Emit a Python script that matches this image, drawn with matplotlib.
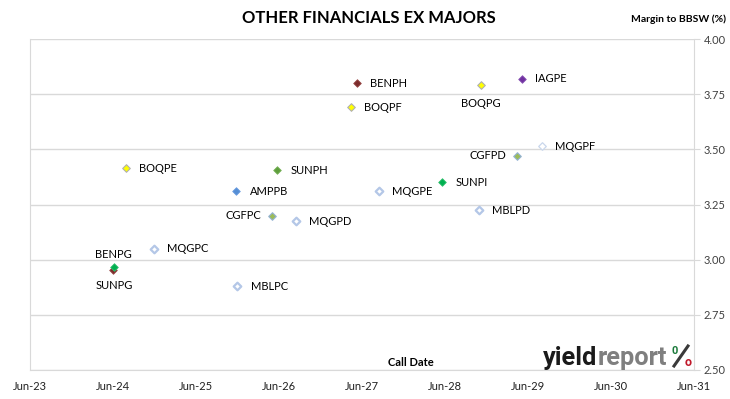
import pandas as pd
import matplotlib
matplotlib.use("Agg")
import matplotlib.pyplot as plt
import matplotlib.dates as mdates
from matplotlib.lines import Line2D

# securities, call dates and margins
codes = ["BENPH", "BOQPF", "IAGPE", "BOQPG", "MQGPF", "CGFPD", "SUNPI", "MQGPE",
         "BOQPE", "SUNPH", "AMPPB", "CGFPC", "MQGPD", "MQGPC", "BENPG", "SUNPG",
         "MBLPC", "MBLPD"]
call_dates = ["2027-06-08", "2027-05-13", "2029-06-04", "2028-12-05", "2029-08-30",
              "2029-05-12", "2028-06-17", "2027-09-12", "2024-08-25", "2026-06-21",
              "2025-12-24", "2026-05-30", "2026-09-13", "2024-12-27", "2024-06-30",
              "2024-07-03", "2025-12-29", "2028-11-27"]
margins = [3.80, 3.69, 3.82, 3.79, 3.515, 3.47, 3.35, 3.31,
           3.415, 3.405, 3.31, 3.20, 3.175, 3.05, 2.955, 2.965,
           2.88, 3.225]

y_ticks = [2.50, 2.75, 3.00, 3.25, 3.50, 3.75, 4.00]
x_tick_years = list(range(2023, 2032))

# marker look per issuer (face, edge, edge width)
styles = {
    "BEN": ("#7b2b2b", "#9a4a48", 0.6),
    "BOQ": ("#ffff00", "#b0b0b0", 0.8),
    "IAG": ("#7030a0", "#8a55b5", 0.6),
    "MQG": ("white", "#b4c7e7", 1.6),
    "MBL": ("white", "#b4c7e7", 1.6),
    "CGF": ("#9bbb59", "#95b3d7", 0.8),
    "SUN": ("#00b050", "#33c070", 0.6),
    "AMP": ("#558ed5", "#6c9de0", 0.6),
}
special = {"SUNPH": ("#5e9e3c", "#7ab35a", 0.6),
           "MQGPF": ("white", "#c9d7ec", 0.9)}

label_side = {"BOQPG": "below", "CGFPD": "left", "CGFPC": "left",
              "BENPG": "above", "SUNPG": "below"}

df = pd.DataFrame({"code": codes, "date": pd.to_datetime(call_dates), "margin": margins})

fig = plt.figure(figsize=(7.30, 3.99), dpi=100)
ax = fig.add_axes([30 / 730, 29 / 399, 664 / 730, 331 / 399])

for _, row in df.iterrows():
    face, edge, lw = special.get(row.code, styles[row.code[:3]])
    ax.scatter(row.date, row.margin, marker="D", s=15, facecolor=face,
               edgecolor=edge, linewidth=lw, zorder=3)
    side = label_side.get(row.code, "right")
    off = {"right": (9.5, 0), "left": (-8, 0), "above": (0, 11), "below": (0, -13)}[side]
    ha = {"right": "left", "left": "right", "above": "center", "below": "center"}[side]
    ax.annotate(row.code, (row.date, row.margin), xytext=off, textcoords="offset points",
                ha=ha, va="center", fontsize=8, family="Lato", color="black", zorder=4)

ax.set_ylim(2.5, 4.0)
ax.set_xlim(pd.Timestamp("2023-06-30"), pd.Timestamp("2031-06-30"))
ax.set_yticks(y_ticks)
ax.set_yticklabels([f"{v:.2f}" for v in y_ticks])
ax.set_xticks([pd.Timestamp(f"{y}-06-30") for y in x_tick_years])
ax.xaxis.set_major_formatter(mdates.DateFormatter("Jun-%y"))

ax.yaxis.tick_right()
ax.grid(axis="y", color="#d9d9d9", linewidth=1)
ax.set_axisbelow(True)
ax.tick_params(axis="y", length=4, color="#d9d9d9", labelsize=8, labelcolor="#404040", pad=3)
ax.tick_params(axis="x", length=0, labelsize=8, labelcolor="#202020", pad=8)
for lbl in ax.get_xticklabels() + ax.get_yticklabels():
    lbl.set_family("Lato")
for side in ["left", "right", "bottom"]:
    ax.spines[side].set_color("#d9d9d9")
ax.spines["top"].set_visible(False)

fig.text(0.505, 0.955, "OTHER FINANCIALS EX MAJORS", ha="center", va="center",
         fontsize=12, fontweight="bold", family="Lato")
fig.text(0.995, 0.952, "Margin to BBSW (%)", ha="right", va="center",
         fontsize=7.5, fontweight="bold", family="Lato")
ax.text(0.573, 0.022, "Call Date", transform=ax.transAxes, ha="center", va="center",
        fontsize=8, fontweight="bold", family="Lato")

# yieldreport logo, sized so the word spans about 543..667 px
logo_font = "Roboto"
base_y = 1 - 365 / 399
probe = fig.text(0, 0, "yieldreport", fontsize=15, fontweight="bold", family=logo_font)
fig.canvas.draw()
size = 15 * 124 / probe.get_window_extent().width
probe.remove()
t1 = fig.text(543 / 730, base_y, "yield", fontsize=size, fontweight="bold",
              family=logo_font, color="#1a1a1a", va="baseline")
bb = t1.get_window_extent()
fig.text(bb.x1 / 730, base_y, "report", fontsize=size, fontweight="bold",
         family=logo_font, color="#7f7f7f", va="baseline")
# percent sign: slash with green zero and red o
fig.add_artist(Line2D([674 / 730, 688 / 730], [1 - 366 / 399, 1 - 346 / 399],
                      color="#3a3a3a", linewidth=2.2, transform=fig.transFigure))
fig.text(675 / 730, 1 - 351 / 399, "0", fontsize=8, fontweight="bold", family=logo_font,
         color="#1b7a3a", va="center", ha="center")
fig.text(688 / 730, 1 - 362 / 399, "o", fontsize=9, fontweight="bold", family=logo_font,
         color="#c0192b", va="center", ha="center")

fig.savefig("out.png", dpi=100)
